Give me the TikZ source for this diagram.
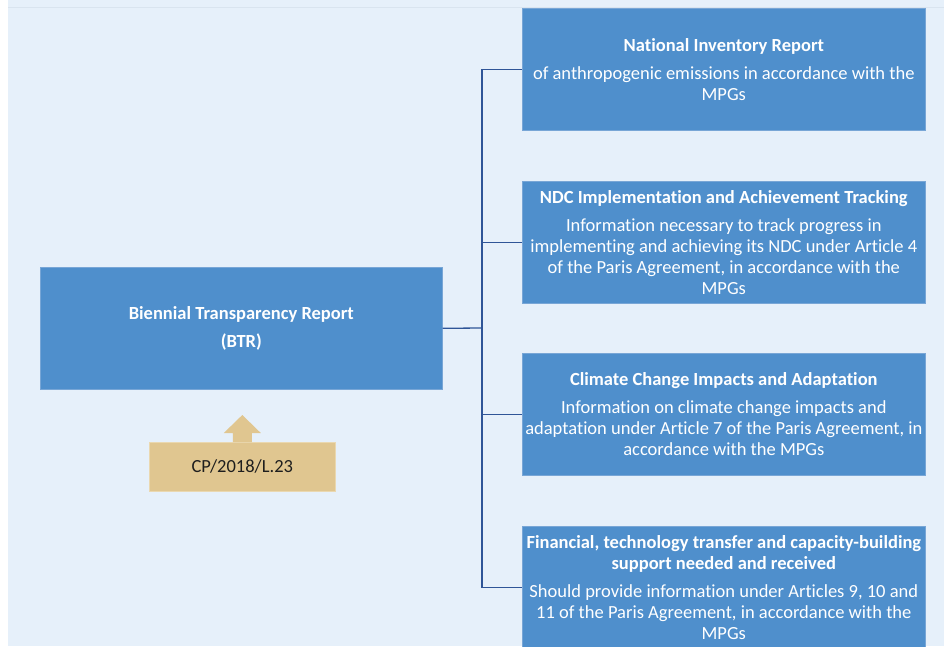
\documentclass[tikz,border=0pt]{standalone}
\usepackage{fontspec}
\setmainfont{Carlito}[Ligatures=NoCommon]
\usetikzlibrary{calc}

\definecolor{pagebg}{HTML}{E6F0FA}
\definecolor{bgline}{HTML}{D9E4EF}
\definecolor{boxblue}{HTML}{4F8FCC}
\definecolor{boxedge}{HTML}{78A6D6}
\definecolor{linkblue}{HTML}{2F5597}
\definecolor{tanfill}{HTML}{E0C690}
\definecolor{tanedge}{HTML}{EAD8B0}
\definecolor{tantext}{HTML}{1E1E1E}

\begin{document}
\begin{tikzpicture}[x=1pt,y=-1pt,
  infobox/.style={draw=boxedge, line width=0.6pt, fill=boxblue, text=white,
    minimum width=403pt, minimum height=122pt, inner sep=0pt, align=center,
    anchor=north west, font=\fontsize{18.5}{21}\selectfont},
  tanbox/.style={draw=tanedge, line width=0.6pt, fill=tanfill, text=tantext,
    minimum width=186pt, minimum height=49pt, inner sep=0pt, anchor=north west,
    font=\fontsize{18.5}{21}\selectfont},
  link/.style={draw=linkblue, line width=1.3pt}
]
\useasboundingbox (0,0) rectangle (944,646);
% page background
\fill[pagebg] (8,0) rectangle (944,646);
\draw[bgline, line width=0.8pt] (8,7) -- (944,7);

% main report
\node[infobox, minimum width=402pt] (btr) at (40,267)
  {\bfseries Biennial Transparency Report\\[7pt]\bfseries (BTR)};

% source document with its up arrow
\node[tanbox] (cp) at (149,442) {CP/2018/L.23};
\fill[tanfill] ($(cp.north)+(-9.5,0)$) -- ++(0,-9) -- ++(-9,0)
  -- ($(cp.north)+(0,-27)$) -- ($(cp.north)+(18.5,-9)$) -- ++(-9,0)
  -- ($(cp.north)+(9.5,0)$) -- cycle;

% report components
\begin{scope}
\clip (0,0) rectangle (944,646);
\node[infobox] (nir) at (522,8)
  {\textbf{National Inventory Report}\\[7pt]
   of anthropogenic emissions in accordance with the\\MPGs};
\node[infobox] (ndc) at (522,181)
  {\textbf{NDC Implementation and Achievement Tracking}\\[7pt]
   Information necessary to track progress in\\
   implementing and achieving its NDC under Article 4\\
   of the Paris Agreement, in accordance with the\\MPGs};
\node[infobox] (cca) at (522,353)
  {\textbf{Climate Change Impacts and Adaptation}\\[7pt]
   Information on climate change impacts and\\
   adaptation under Article 7 of the Paris Agreement, in\\
   accordance with the MPGs};
\node[infobox, minimum height=123pt] (fin) at (522,526)
  {\textbf{Financial, technology transfer and capacity-building}\\
   \textbf{support needed and received}\\[7pt]
   Should provide information under Articles 9, 10 and\\
   11 of the Paris Agreement, in accordance with the\\MPGs};
\end{scope}

% connectors
\draw[link] (btr.east) -- (482,328) coordinate (bus);
\draw[link] (bus) |- (nir.west);
\draw[link] (bus) |- (ndc.west);
\draw[link] (bus) |- (cca.west);
\draw[link] (bus) |- (fin.west);
\end{tikzpicture}
\end{document}
